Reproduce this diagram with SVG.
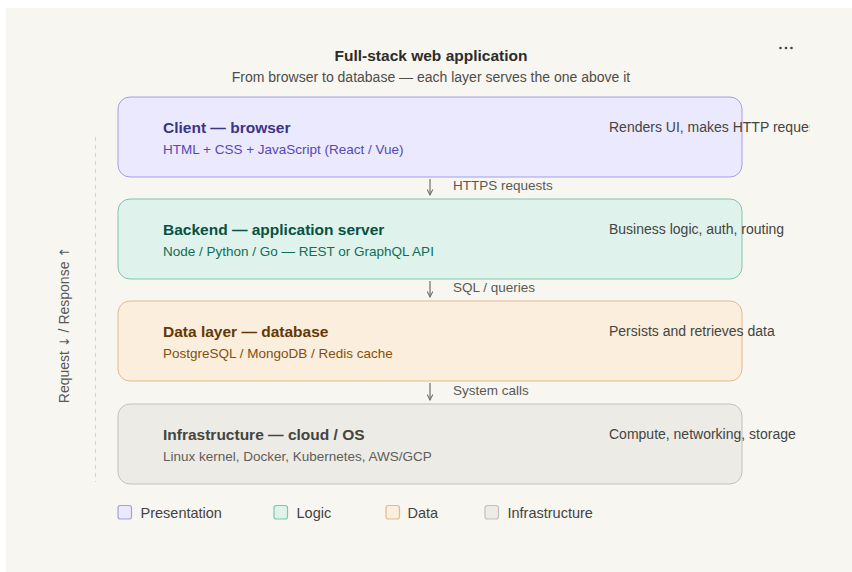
<svg xmlns="http://www.w3.org/2000/svg" width="852" height="572" viewBox="0 0 852 572">
  <defs>
    <style>
      text { font-family: "Liberation Sans", Arial, "DejaVu Sans", sans-serif; }
      .title { font-size: 15.5px; font-weight: 700; fill: #2c2c2a; }
      .subtitle { font-size: 14px; fill: #4e4d49; }
      .layer-title { font-size: 15.5px; font-weight: 700; }
      .layer-sub { font-size: 13.5px; }
      .layer-note { font-size: 14px; fill: #444441; }
      .edge-label { font-size: 13.5px; fill: #5a5954; }
      .legend-label { font-size: 14.5px; fill: #444441; }
      .axis-label { font-size: 14px; fill: #5a5954; }
      .glyph { font-family: "DejaVu Sans", sans-serif; font-size: 13px; }
      .layer { stroke-width: 1; }
      .edge { stroke: #6f6e69; stroke-width: 1.2; fill: none; }
      .p-box { fill: #ebe9fd; stroke: #a49ee6; }
      .p-title { fill: #3c3489; }
      .p-sub { fill: #534ab7; }
      .l-box { fill: #dff3ec; stroke: #7cc6ad; }
      .l-title { fill: #085041; }
      .l-sub { fill: #0f6e56; }
      .d-box { fill: #fbeedc; stroke: #e2bb8c; }
      .d-title { fill: #633806; }
      .d-sub { fill: #854f0b; }
      .i-box { fill: #ecebe6; stroke: #c3c1ba; }
      .i-title { fill: #444441; }
      .i-sub { fill: #5f5e5a; }
    </style>
    <marker id="arrow" viewBox="0 0 10 10" refX="9" refY="5" markerWidth="7" markerHeight="7" orient="auto" markerUnits="userSpaceOnUse">
      <path d="M1 1 L9 5 L1 9" fill="none" stroke="#6f6e69" stroke-width="1.5"/>
    </marker>
    <clipPath id="note-clip">
      <rect x="0" y="0" width="809.5" height="572"/>
    </clipPath>
  </defs>

  <!-- page and panel -->
  <rect x="0" y="0" width="852" height="572" fill="#ffffff"/>
  <rect x="6" y="8" width="846" height="564" fill="#f8f6f1"/>

  <!-- heading -->
  <text class="title" x="431" y="61" text-anchor="middle">Full-stack web application</text>
  <text class="subtitle" x="431" y="82" text-anchor="middle">From browser to database — each layer serves the one above it</text>

  <!-- overflow menu -->
  <g id="menu" fill="#444441">
    <circle cx="780.5" cy="48" r="1.3"/>
    <circle cx="786" cy="48" r="1.3"/>
    <circle cx="791.5" cy="48" r="1.3"/>
  </g>

  <!-- request / response axis -->
  <g id="axis">
    <line x1="95.5" y1="137" x2="95.5" y2="482" stroke="#d6d4cd" stroke-width="1" stroke-dasharray="4 4"/>
    <text class="axis-label" transform="translate(69 325) rotate(-90)" text-anchor="middle">Request <tspan class="glyph">↓</tspan> / Response <tspan class="glyph">↑</tspan></text>
  </g>

  <!-- layers -->
  <g id="client">
    <rect class="layer p-box" x="118" y="97" width="624" height="80" rx="12"/>
    <text class="layer-title p-title" x="163" y="133">Client — browser</text>
    <text class="layer-sub p-sub" x="163" y="154">HTML + CSS + JavaScript (React / Vue)</text>
    <text class="layer-note" x="609" y="132" clip-path="url(#note-clip)">Renders UI, makes HTTP requests</text>
  </g>

  <g id="backend">
    <rect class="layer l-box" x="118" y="199" width="624" height="80" rx="12"/>
    <text class="layer-title l-title" x="163" y="235">Backend — application server</text>
    <text class="layer-sub l-sub" x="163" y="256">Node / Python / Go — REST or GraphQL API</text>
    <text class="layer-note" x="609" y="234" clip-path="url(#note-clip)">Business logic, auth, routing</text>
  </g>

  <g id="data">
    <rect class="layer d-box" x="118" y="301" width="624" height="80" rx="12"/>
    <text class="layer-title d-title" x="163" y="337">Data layer — database</text>
    <text class="layer-sub d-sub" x="163" y="358">PostgreSQL / MongoDB / Redis cache</text>
    <text class="layer-note" x="609" y="336" clip-path="url(#note-clip)">Persists and retrieves data</text>
  </g>

  <g id="infrastructure">
    <rect class="layer i-box" x="118" y="404" width="624" height="80" rx="12"/>
    <text class="layer-title i-title" x="163" y="440">Infrastructure — cloud / OS</text>
    <text class="layer-sub i-sub" x="163" y="461">Linux kernel, Docker, Kubernetes, AWS/GCP</text>
    <text class="layer-note" x="609" y="439" clip-path="url(#note-clip)">Compute, networking, storage</text>
  </g>

  <!-- connectors between layers -->
  <g id="connectors">
    <line class="edge" x1="430" y1="179" x2="430" y2="195" marker-end="url(#arrow)"/>
    <text class="edge-label" x="453" y="190">HTTPS requests</text>
    <line class="edge" x1="430" y1="281" x2="430" y2="297" marker-end="url(#arrow)"/>
    <text class="edge-label" x="453" y="292">SQL / queries</text>
    <line class="edge" x1="430" y1="383" x2="430" y2="400" marker-end="url(#arrow)"/>
    <text class="edge-label" x="453" y="395">System calls</text>
  </g>

  <!-- legend -->
  <g id="legend">
    <rect class="p-box" x="118" y="505.5" width="13.5" height="13.5" rx="2.5" stroke-width="1.2"/>
    <text class="legend-label" x="140.5" y="518">Presentation</text>
    <rect class="l-box" x="274" y="505.5" width="13.5" height="13.5" rx="2.5" stroke-width="1.2"/>
    <text class="legend-label" x="296.5" y="518">Logic</text>
    <rect class="d-box" x="386" y="505.5" width="13.5" height="13.5" rx="2.5" stroke-width="1.2"/>
    <text class="legend-label" x="407.5" y="518">Data</text>
    <rect class="i-box" x="485" y="505.5" width="13.5" height="13.5" rx="2.5" stroke-width="1.2"/>
    <text class="legend-label" x="507.5" y="518">Infrastructure</text>
  </g>
</svg>
